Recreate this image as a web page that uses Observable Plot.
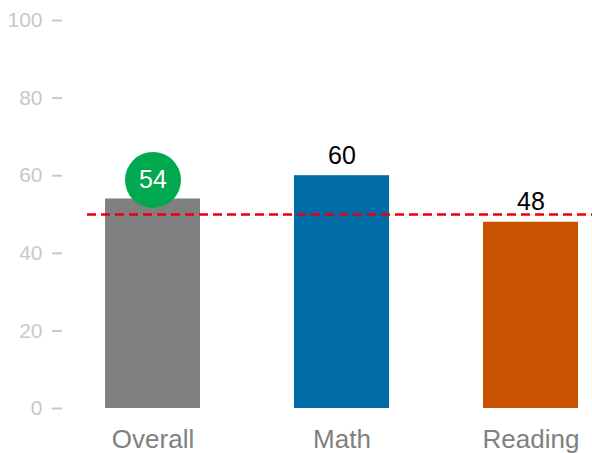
<!DOCTYPE html>
<html>
<head>
<meta charset="utf-8">
<script src="https://cdn.jsdelivr.net/npm/d3@7"></script>
<script src="https://cdn.jsdelivr.net/npm/@observablehq/plot@0.6"></script>
<style>
  html, body { margin: 0; padding: 0; background: #fff; }
  #chart svg { display: block; }
</style>
</head>
<body>
<div id="chart"></div>
<script>
const categories = ["Overall", "Math", "Reading"];
const values = [54, 60, 48];
const colors = ["#808080", "#006BA4", "#C85200"];
const benchmark = [50];
const yTicks = [0, 20, 40, 60, 80, 100];

const data = categories.map((c, i) => ({category: c, value: values[i], color: colors[i]}));
const highlight = data.filter(d => d.category === "Overall");
const others = data.filter(d => d.category !== "Overall");

const chart = Plot.plot({
  width: 592,
  height: 453,
  marginTop: 20,
  marginBottom: 45,
  marginLeft: 62,
  marginRight: 0,
  style: {fontFamily: "Liberation Sans, Arial, sans-serif", background: "#fff"},
  x: {domain: categories, paddingInner: 0.5, paddingOuter: 0.152, align: 0.75, label: null},
  y: {domain: [0, 100], label: null},
  marks: [
    Plot.axisY({ticks: yTicks, tickSize: 10, tickPadding: 10, fontSize: 21, color: "#c8c8c8", stroke: "#c8c8c8", strokeWidth: 2, label: null}),
    Plot.axisX({tickSize: 0, tickPadding: 21, fontSize: 26, color: "#808080", label: null}),
    Plot.barY(data, {x: "category", y: "value", fill: "color"}),
    Plot.ruleY(benchmark, {stroke: "#e8000b", strokeWidth: 2.5, strokeDasharray: "9,5", insetLeft: 25}),
    Plot.dot(highlight, {x: "category", y: "value", r: 28, fill: "#00A94F", dy: -19}),
    Plot.text(highlight, {x: "category", y: "value", text: d => String(d.value), fill: "white", fontSize: 25, dy: -19}),
    Plot.text(others, {x: "category", y: "value", text: d => String(d.value), fill: "black", fontSize: 25, lineAnchor: "bottom", dy: -12})
  ]
});
document.getElementById("chart").appendChild(chart);
</script>
</body>
</html>
